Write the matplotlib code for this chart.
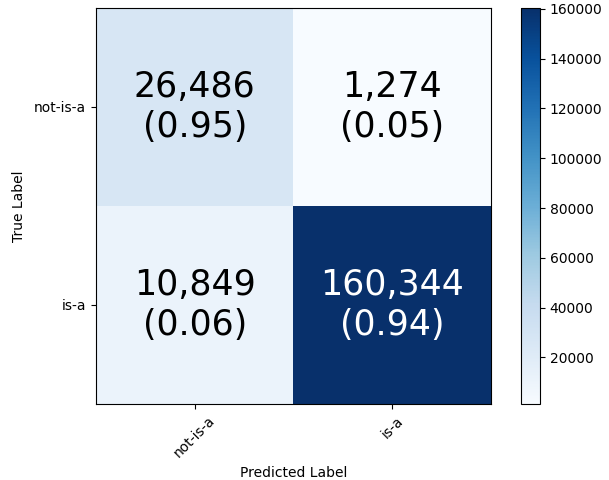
import numpy as np
import matplotlib
matplotlib.use('Agg')
import matplotlib.pyplot as plt

# confusion matrix counts and row-normalized rates
classes = ['not-is-a', 'is-a']
counts = np.array([[26486, 1274],
                   [10849, 160344]])
rates = np.array([[0.95, 0.05],
                  [0.06, 0.94]])

fig = plt.figure(figsize=(6.09, 4.8), dpi=100)
ax = fig.add_axes([96 / 609, 76 / 480, 395 / 609, 396 / 480])
cax = fig.add_axes([521 / 609, 76 / 480, 19 / 609, 396 / 480])

im = ax.imshow(counts, interpolation='nearest', cmap=plt.cm.Blues, aspect='auto')
fig.colorbar(im, cax=cax)

ticks = np.arange(len(classes))
ax.set_xticks(ticks)
ax.set_xticklabels(classes, rotation=45)
ax.set_yticks(ticks)
ax.set_yticklabels(classes)

thresh = counts.max() / 2.0
for i in range(counts.shape[0]):
    for j in range(counts.shape[1]):
        ax.text(j, i, '{:,}\n({:.2f})'.format(counts[i, j], rates[i, j]),
                ha='center', va='center', fontsize=25,
                color='white' if counts[i, j] > thresh else 'black')

ax.set_ylabel('True Label', labelpad=6)
ax.set_xlabel('Predicted Label')

fig.savefig('out.png', dpi=100)
